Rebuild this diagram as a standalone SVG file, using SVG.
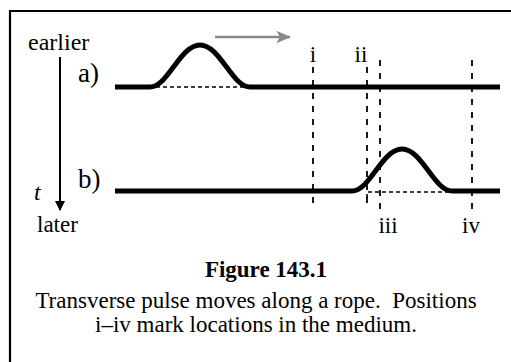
<svg xmlns="http://www.w3.org/2000/svg" width="511" height="362" viewBox="0 0 511 362">
<defs>
<style>
.t{font-family:"Liberation Serif","Times New Roman",serif;fill:#000}
.rope{fill:none;stroke:#000;stroke-width:5;stroke-linejoin:round}
.base{fill:none;stroke:#000;stroke-width:1.6;stroke-dasharray:4 3}
.pos{fill:none;stroke:#000;stroke-width:1.8;stroke-dasharray:6 7}
</style>
<marker id="ah" viewBox="0 0 10 10" refX="9" refY="5" markerWidth="5" markerHeight="6" orient="auto" markerUnits="strokeWidth">
<path d="M0,0 L10,5 L0,10 Z" fill="#000"/>
</marker>
<marker id="gh" viewBox="0 0 12 10" refX="11" refY="5" markerWidth="6" markerHeight="5" orient="auto" markerUnits="strokeWidth">
<path d="M0,0 L12,5 L0,10 L3,5 Z" fill="#888"/>
</marker>
</defs>
<rect width="511" height="362" fill="#fff"/>
<g id="frame">
<path d="M10,370 V11 H520" fill="none" stroke="#000" stroke-width="2.2"/>
</g>
<g id="time-axis">
<text class="t" x="28" y="50" font-size="24">earlier</text>
<line x1="60" y1="57" x2="60" y2="210" stroke="#000" stroke-width="2" marker-end="url(#ah)"/>
<text class="t" x="34" y="200" font-size="24" font-style="italic">t</text>
<text class="t" x="37" y="232" font-size="23">later</text>
</g>
<g id="rope-a">
<text class="t" x="78" y="82" font-size="27">a)</text>
<path class="rope" d="M115,87 H150 C168,87 180,45 200,45 C220,45 232,87 250,87 H500"/>
<line class="base" x1="156" y1="87" x2="246" y2="87"/>
</g>
<g id="rope-b">
<text class="t" x="78" y="188" font-size="27">b)</text>
<path class="rope" d="M115,191 H352 C370,191 382,149 402,149 C422,149 434,191 452,191 H500"/>
<path class="base" d="M367,198 V192 H448"/>
</g>
<g id="connectors">
<line x1="215" y1="37" x2="290" y2="37" stroke="#888" stroke-width="2.5" marker-end="url(#gh)"/>
<line class="pos" x1="313" y1="67" x2="313" y2="210"/>
<line class="pos" x1="367" y1="67" x2="367" y2="210"/>
<line class="pos" x1="380" y1="60" x2="380" y2="210"/>
<line class="pos" x1="472" y1="60" x2="472" y2="210"/>
</g>
<g id="labels">
<text class="t" x="313" y="62" font-size="23" text-anchor="middle">i</text>
<text class="t" x="361" y="62" font-size="23" text-anchor="middle">ii</text>
<text class="t" x="388" y="233" font-size="23" text-anchor="middle">iii</text>
<text class="t" x="471" y="233" font-size="23" text-anchor="middle">iv</text>
</g>
<g id="caption">
<text class="t" x="266" y="277" font-size="23" font-weight="bold" text-anchor="middle">Figure 143.1</text>
<text class="t" x="256" y="308" font-size="23" text-anchor="middle" xml:space="preserve">Transverse pulse moves along a rope.  Positions</text>
<text class="t" x="256" y="332" font-size="23" text-anchor="middle">i–iv mark locations in the medium.</text>
</g>
</svg>
